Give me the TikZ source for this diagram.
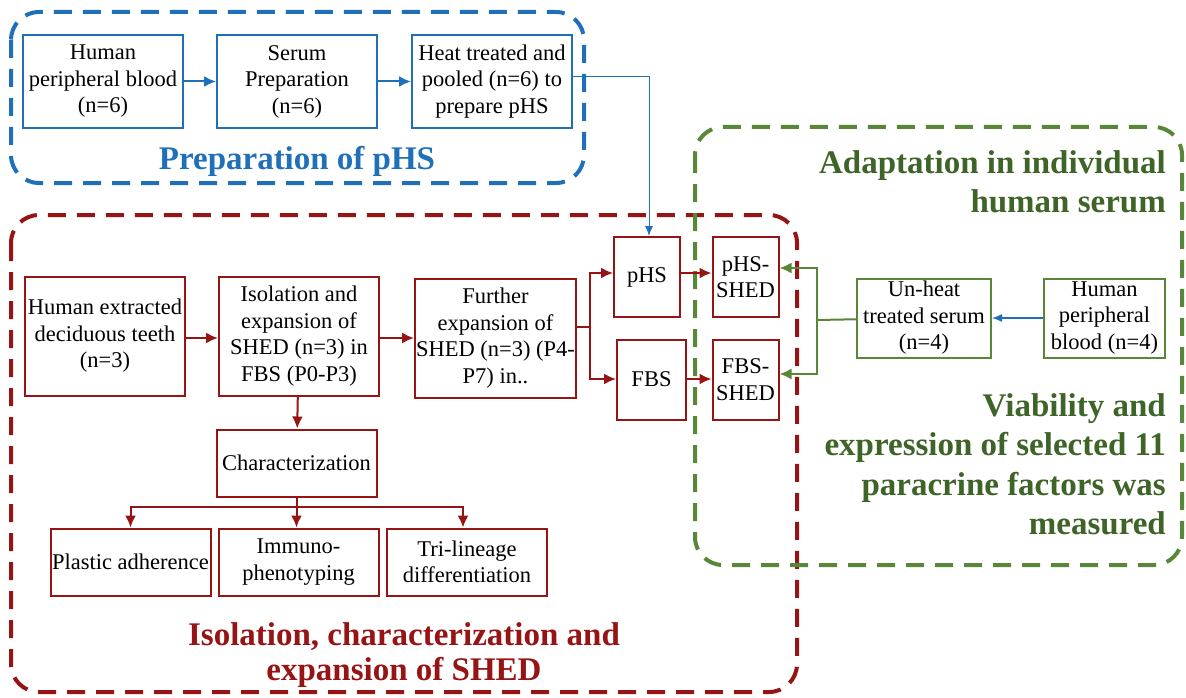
\documentclass[tikz,border=0pt]{standalone}
\usepackage{fontspec}
\setmainfont{Liberation Serif}
\usetikzlibrary{arrows.meta,positioning}
\definecolor{PrepColor}{RGB}{31,112,185}
\definecolor{ShedColor}{RGB}{150,20,20}
\definecolor{AdaptColor}{RGB}{88,135,58}
\definecolor{AdaptTitle}{RGB}{62,100,40}
\tikzset{
    box/.style={rectangle, draw, line width=2pt, minimum width=160pt, align=center, inner sep=1pt, font=\fontsize{22.5}{26.5}\selectfont},
    prep/.style={box, draw=PrepColor, minimum height=93pt},
    shed/.style={box, draw=ShedColor, minimum height=119pt},
    small/.style={box, draw=ShedColor, minimum width=66pt, minimum height=80pt},
    char/.style={box, draw=ShedColor, minimum height=67pt},
    adapt/.style={box, draw=AdaptColor, minimum height=79pt},
    frame/.style={line width=4pt, rounded corners=28pt, dash pattern=on 18pt off 11pt},
    title/.style={font=\fontsize{33}{39.5}\selectfont\bfseries, inner sep=0pt, align=center},
    connection/.style={-{Latex[length=12pt,width=11pt]}, line width=2pt},
    thinconn/.style={-{Latex[length=10pt,width=8pt]}, line width=1pt}
}
\begin{document}
\begin{tikzpicture}[x=1pt, y=-1pt, node distance=2cm and 1cm]
\useasboundingbox (0,0) rectangle (1186,698);

% Dashed group frames
\draw [frame, draw=ShedColor] (11,215) rectangle (797,692);
\draw [frame, draw=AdaptColor] (695,127) rectangle (1182,565);
\draw [frame, draw=PrepColor] (11,12) rectangle (584,183);

% Preparation of pHS
\node (blood) [prep] at (103,81.5) {Human\\peripheral blood\\(n=6)};
\node (serum) [prep, right=32pt of blood] {Serum\\Preparation\\(n=6)};
\node (pooled) [prep, right=33pt of serum] {Heat treated and\\pooled (n=6) to\\prepare pHS};
\node (preptitle) [title, text=PrepColor] at (297,161) {Preparation of pHS};

% Isolation and expansion of SHED
\node (teeth) [shed] at (105,336) {Human extracted\\deciduous teeth\\(n=3)};
\node (isolation) [shed, right=32pt of teeth] {Isolation and\\expansion of\\SHED (n=3) in\\FBS (P0-P3)};
\node (further) [shed, right=34pt of isolation, yshift=-2pt] {Further\\expansion of\\SHED (n=3) (P4-\\P7) in..};

% Media and adapted cells
\node (phs) [small] at (647,277) {pHS};
\node (fbs) [small, minimum width=69pt] at (651.5,379.5) {FBS};
\node (phsshed) [small] at (745.5,277) {pHS-\\SHED};
\node (fbsshed) [small] at (745.5,379.5) {FBS-\\SHED};

% Characterization
\node (char) [char] at (296.5,463) {Characterization};
\node (plastic) [char] at (130.5,562) {Plastic adherence};
\node (immuno) [char] at (298.5,562) {Immuno-\\phenotyping};
\node (trilin) [char] at (467,562) {Tri-lineage\\differentiation};
\node (shedtitle) [title, text=ShedColor, font=\fontsize{33}{35}\selectfont\bfseries] at (404,655) {Isolation, characterization and\\expansion of SHED};

% Adaptation in individual human serum
\node (unheat) [adapt, minimum width=134pt] at (924,318) {Un-heat\\treated serum\\(n=4)};
\node (donor) [adapt, minimum width=121pt] at (1104.5,318) {Human\\peripheral\\blood (n=4)};
\node (adapttitle) [title, text=AdaptTitle, align=right, anchor=north east] at (1166,150) {Adaptation in individual\\human serum};
\node (viatitle) [title, text=AdaptTitle, align=right, anchor=north east] at (1166,393) {Viability and\\expression of selected 11\\paracrine factors was\\measured};

% Connections
\draw [connection, draw=PrepColor] (blood) -- (serum);
\draw [connection, draw=PrepColor] (serum) -- (pooled);
\draw [thinconn, draw=PrepColor] (pooled.east |- 0,77) -| (phs.north -| 649,0);
\draw [connection, draw=ShedColor] (teeth.east |- 0,338) -- (isolation.west |- 0,338);
\draw [connection, draw=ShedColor] (isolation.east |- 0,338) -- (further.west |- 0,338);
\coordinate (split) at (590,327);
\draw [line width=2pt, draw=ShedColor] (further.east |- split) -- (split);
\draw [connection, draw=ShedColor] (split) |- (phs.west |- 0,273);
\draw [connection, draw=ShedColor] (split) |- (fbs.west |- 0,379);
\draw [connection, draw=ShedColor] (phs.east |- 0,273) -- (phsshed.west |- 0,273);
\draw [connection, draw=ShedColor] (fbs.east |- 0,379) -- (fbsshed.west |- 0,379);
\draw [connection, draw=ShedColor] (isolation) -- (char);
\coordinate (fork) at (296.5,507);
\draw [line width=2pt, draw=ShedColor] (char) -- (fork);
\draw [connection, draw=ShedColor] (fork) -| (plastic);
\draw [connection, draw=ShedColor] (fork) -- (immuno.north -| fork);
\draw [connection, draw=ShedColor] (fork) -| (trilin.north -| 463,0);
\draw [thinconn, draw=PrepColor, line width=1.3pt] (donor) -- (unheat);
\coordinate (merge) at (817,320);
\draw [line width=2pt, draw=AdaptColor] (unheat) -- (merge);
\draw [connection, draw=AdaptColor] (merge) |- (phsshed.east |- 0,268);
\draw [connection, draw=AdaptColor] (merge) |- (fbsshed.east |- 0,374);

\end{tikzpicture}
\end{document}
